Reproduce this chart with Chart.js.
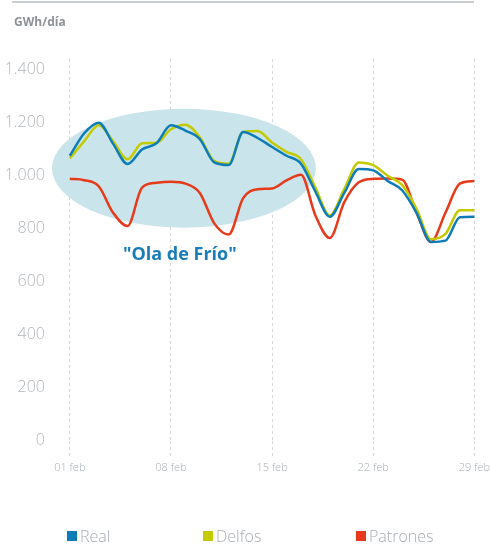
<!DOCTYPE html>
<html>
<head>
<meta charset="utf-8">
<script src="https://cdn.jsdelivr.net/npm/chart.js@4"></script>
<style>
    html, body { margin: 0; padding: 0; background: #fff; }
    #wrap { position: relative; width: 490px; height: 544px; }
    #rule { position: absolute; left: 12px; top: 1px; width: 462px; height: 2px; background: #c9cdd1; }
    #unit { position: absolute; left: 14px; top: 13px; font: bold 12px "Open Sans", sans-serif; color: #8d9297; }
    #chartBox { position: absolute; left: 0; top: 0; width: 490px; height: 544px; }
</style>
</head>
<body>
<div id="wrap">
    <div id="chartBox"><canvas id="chart"></canvas></div>
    <div id="rule"></div>
    <div id="unit">GWh/día</div>
</div>
<script>
// days of February 2016
const days = [1, 2, 3, 4, 5, 6, 7, 8, 9, 10, 11, 12, 13, 14, 15, 16, 17, 18, 19, 20, 21, 22, 23, 24, 25, 26, 27, 28, 29];
const tickDays = [1, 8, 15, 22, 29];
const tickLabels = ['01 feb', '08 feb', '15 feb', '22 feb', '29 feb'];

// GWh/día
const real = [1075, 1160, 1200, 1120, 1044, 1099, 1122, 1190, 1170, 1138, 1050, 1040, 1165, 1142, 1108,
    1075, 1045, 940, 845, 935, 1025, 1020, 980, 945, 860, 750, 755, 843, 845];
const delfos = [1065, 1130, 1190, 1130, 1062, 1122, 1124, 1175, 1192, 1145, 1055, 1045, 1165, 1168, 1125,
    1090, 1062, 955, 850, 950, 1050, 1040, 1000, 965, 875, 760, 780, 870, 870];
const patrones = [988, 983, 960, 860, 810, 955, 973, 977, 970, 935, 820, 778, 915, 949, 952,
    982, 1003, 850, 765, 900, 975, 988, 989, 985, 860, 750, 860, 970, 980];

const seriesNames = ['Real', 'Delfos', 'Patrones'];
const seriesColors = ['#0d7cb7', '#c3cb00', '#e63a1a'];
const seriesValues = [real, delfos, patrones];

const yTicks = [0, 200, 400, 600, 800, 1000, 1200, 1400];
const coldLabel = '"Ola de Frío"';

const toPoints = vals => vals.map((v, i) => ({ x: days[i], y: v }));

// shaded ellipse + label for the cold wave
const coldWave = {
    id: 'coldWave',
    beforeDatasetsDraw(chart) {
        const { ctx, scales: { x, y } } = chart;
        const cx = x.getPixelForValue(8.9);
        const cy = y.getPixelForValue(1028);
        const rx = x.getPixelForValue(8.9 + 9.13) - cx;
        const ry = cy - y.getPixelForValue(1028 + 224);
        ctx.save();
        ctx.fillStyle = '#c9e5eb';
        ctx.beginPath();
        ctx.ellipse(cx, cy, rx, ry, 0, 0, Math.PI * 2);
        ctx.fill();
        ctx.font = 'bold 18px "Open Sans", sans-serif';
        ctx.fillStyle = '#1a7db8';
        ctx.textAlign = 'center';
        ctx.textBaseline = 'middle';
        ctx.fillText(coldLabel, x.getPixelForValue(8.62), y.getPixelForValue(700));
        ctx.restore();
    }
};

// legend spread across the bottom
const legendX = [67, 203, 356];
const wideLegend = {
    id: 'wideLegend',
    afterDraw(chart) {
        const ctx = chart.ctx;
        ctx.save();
        ctx.font = '300 16px "Open Sans", sans-serif';
        ctx.textBaseline = 'alphabetic';
        chart.data.datasets.forEach((ds, i) => {
            ctx.fillStyle = ds.borderColor;
            ctx.fillRect(legendX[i], 531, 10, 10);
            ctx.fillStyle = '#a9aeb3';
            ctx.fillText(ds.label, legendX[i] + 13, 542);
        });
        ctx.restore();
    }
};

new Chart(document.getElementById('chart'), {
    type: 'line',
    data: {
        datasets: seriesNames.map((name, i) => ({
            label: name,
            data: toPoints(seriesValues[i]),
            borderColor: seriesColors[i],
            backgroundColor: seriesColors[i],
            borderWidth: 2.5,
            pointRadius: 0,
            cubicInterpolationMode: 'monotone',
            fill: false
        }))
    },
    options: {
        responsive: true,
        maintainAspectRatio: false,
        animation: false,
        layout: { padding: { top: 59, right: 7, bottom: 66, left: 0 } },
        plugins: {
            legend: { display: false },
            tooltip: { enabled: false }
        },
        scales: {
            x: {
                type: 'linear',
                min: 0.6,
                max: 29.6,
                afterBuildTicks: axis => { axis.ticks = tickDays.map(v => ({ value: v })); },
                afterFit: axis => { axis.paddingRight = 0; axis.paddingLeft = 0; },
                ticks: {
                    autoSkip: false,
                    maxRotation: 0,
                    padding: 4,
                    color: '#aab0b5',
                    font: { family: 'Open Sans', size: 11, weight: '300' },
                    callback: (v) => tickLabels[tickDays.indexOf(v)] || ''
                },
                grid: {
                    color: '#d4d7da',
                    lineWidth: 1,
                    tickLength: 16,
                    tickBorderDash: [3, 3]
                },
                border: { display: false, dash: [3, 3] }
            },
            y: {
                min: 0,
                max: 1440,
                afterBuildTicks: axis => { axis.ticks = yTicks.map(v => ({ value: v })); },
                afterFit: axis => { axis.width = 64; },
                ticks: {
                    padding: 19,
                    color: '#b3b7bb',
                    font: { family: 'Open Sans', size: 16, weight: '300' },
                    callback: v => v.toLocaleString('de-DE')
                },
                grid: { display: false, drawTicks: false },
                border: { display: false }
            }
        }
    },
    plugins: [coldWave, wideLegend]
});
</script>
</body>
</html>
